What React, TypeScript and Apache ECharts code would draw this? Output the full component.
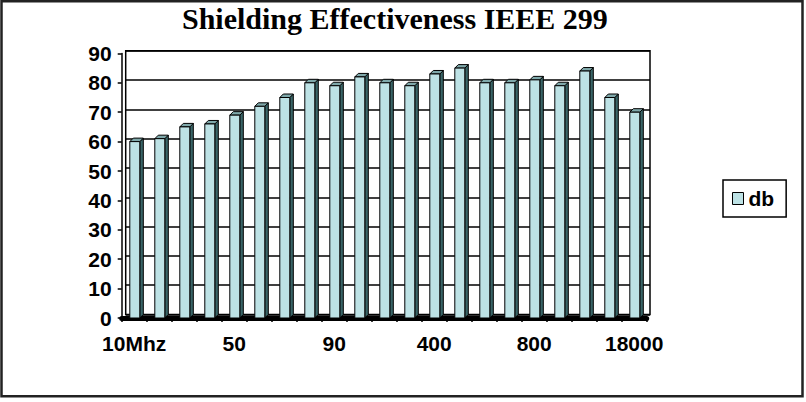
import React, { useEffect, useRef } from "react";
import * as echarts from "echarts";

const categories = ["10Mhz", "20", "30", "40", "50", "60", "70", "80", "90", "100", "200", "300", "400", "500", "600", "700", "800", "900", "1000", "10000", "18000"];
const dbValues = [60, 61, 65, 66, 69, 72, 75, 80, 79, 82, 80, 79, 83, 85, 80, 80, 81, 79, 84, 75, 70];
const yMin = 0;
const yMax = 90;
const yStep = 10;
const seriesName = "db";
const titleText = "Shielding Effectiveness IEEE 299";

const FRONT = "#BDE2E5";
const SIDE = "#3A6668";
const TOP = "#7FA8AA";
const SANS = "'Liberation Sans', Arial, sans-serif";
const SERIF = "'Liberation Serif', 'Times New Roman', serif";

export default function App() {
  const ref = useRef<HTMLDivElement>(null);
  useEffect(() => {
    if (!ref.current) return;
    const chart = echarts.init(ref.current, undefined, { renderer: "svg" });
    const depth = 3.5;
    const option: any = {
      animation: false,
      backgroundColor: "#fff",
      title: {
        text: titleText,
        left: 182,
        top: 3,
        padding: 0,
        textStyle: { fontFamily: SERIF, fontWeight: "bold", fontSize: 30, color: "#000" },
      },
      legend: {
        data: [seriesName],
        left: 723,
        top: 180,
        orient: "vertical",
        padding: [8, 12, 8, 9],
        itemWidth: 11,
        itemHeight: 12,
        icon: "rect",
        borderColor: "#000",
        borderWidth: 1.5,
        itemStyle: { color: FRONT, borderColor: "#000", borderWidth: 1 },
        textStyle: { fontFamily: SANS, fontWeight: "bold", fontSize: 21, color: "#000" },
      },
      grid: [
        { left: 121.7, right: 159.3, top: 53.4, bottom: 84, show: false },
        { left: 125.7, right: 156, top: 50.7, bottom: 87.5, show: true, borderColor: "#000", borderWidth: 1.5, backgroundColor: "transparent" },
      ],
      xAxis: [
        {
          type: "category",
          gridIndex: 0,
          data: categories,
          boundaryGap: true,
          axisLine: { show: true, lineStyle: { color: "#000", width: 5 } },
          axisTick: { show: true, interval: 0, length: 4, lineStyle: { color: "#000", width: 1.5 } },
          axisLabel: { interval: 3, margin: 15, fontFamily: SANS, fontWeight: "bold", fontSize: 21, color: "#000" },
          splitLine: { show: false },
        },
        {
          type: "category",
          gridIndex: 1,
          data: categories,
          show: false,
        },
      ],
      yAxis: [
        {
          type: "value",
          gridIndex: 0,
          min: yMin,
          max: yMax,
          interval: yStep,
          axisLine: { show: true, lineStyle: { color: "#000", width: 1.5 } },
          axisTick: { show: true, length: 4, lineStyle: { color: "#000", width: 1.5 } },
          axisLabel: { margin: 10, fontFamily: SANS, fontWeight: "bold", fontSize: 21, color: "#000" },
          splitLine: { show: false },
        },
        {
          type: "value",
          gridIndex: 1,
          min: yMin,
          max: yMax,
          interval: yStep,
          axisLine: { show: false },
          axisTick: { show: false },
          axisLabel: { show: false },
          splitLine: { show: true, lineStyle: { color: "#000", width: 1.5 } },
        },
      ],
      series: [
        {
          name: seriesName,
          type: "custom",
          xAxisIndex: 0,
          yAxisIndex: 0,
          z: 1,
          itemStyle: { color: FRONT },
          encode: { x: 0, y: 1 },
          data: dbValues.map((v, i) => [i, v]),
          renderItem: (params: any, api: any) => {
            const idx = api.value(0);
            const val = api.value(1);
            const top = api.coord([idx, val]);
            const base = api.coord([idx, 0]);
            const band = api.size([1, 0])[0];
            const w = band * 0.4;
            const x0 = top[0] - w / 2 + 0.6;
            const x1 = x0 + w;
            const yt = top[1];
            const yb = base[1];
            const d = depth;
            return {
              type: "group",
              children: [
                {
                  type: "polygon",
                  shape: { points: [[x1, yt], [x1 + d, yt - d], [x1 + d, yb - d], [x1, yb]] },
                  style: { fill: SIDE, stroke: "#000", lineWidth: 1 },
                },
                {
                  type: "polygon",
                  shape: { points: [[x0, yt], [x1, yt], [x1 + d, yt - d], [x0 + d, yt - d]] },
                  style: { fill: TOP, stroke: "#000", lineWidth: 1 },
                },
                {
                  type: "rect",
                  shape: { x: x0, y: yt, width: w, height: yb - yt },
                  style: { fill: FRONT, stroke: "#000", lineWidth: 1 },
                },
              ],
            };
          },
        },
      ],
      graphic: [
        {
          type: "rect",
          silent: true,
          z: 100,
          shape: { x: 1.5, y: 1.2, width: 801, height: 395 },
          style: { fill: "none", stroke: "#222", lineWidth: 2.5 },
        },
      ],
    };
    chart.setOption(option);
    return () => chart.dispose();
  }, []);
  return <div ref={ref} style={{ position: "fixed", left: 0, top: 0, width: 806, height: 402 }} />;
}
